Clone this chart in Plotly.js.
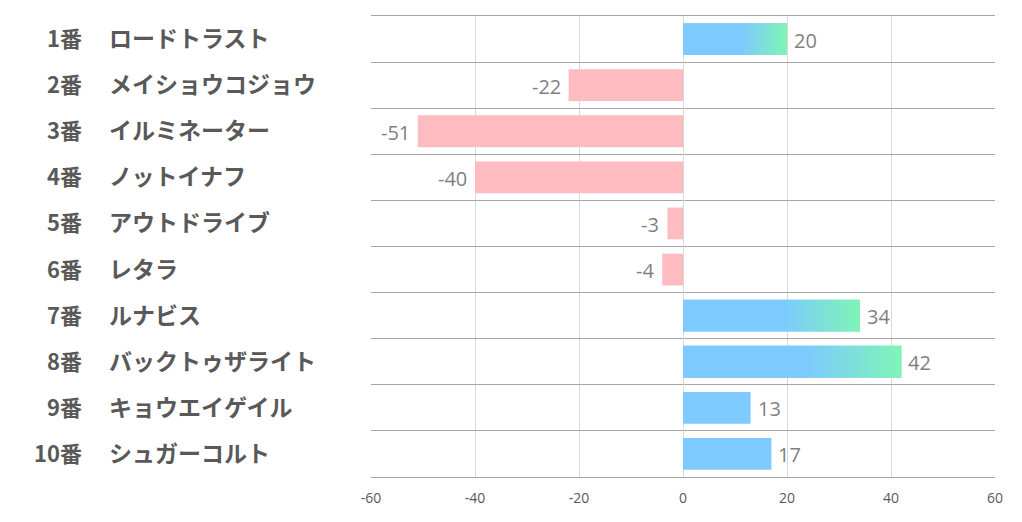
<!DOCTYPE html>
<html>
<head>
<meta charset="utf-8">
<script src="https://cdn.plot.ly/plotly-3.0.1.min.js"></script>
<style>html,body{margin:0;padding:0;background:#fff;}#chart{width:1022px;height:522px;}</style>
</head>
<body>
<div id="chart"></div>
<script>
const numbers = ["1番","2番","3番","4番","5番","6番","7番","8番","9番","10番"];
const names = ["ロードトラスト","メイショウコジョウ","イルミネーター","ノットイナフ","アウトドライブ","レタラ","ルナビス","バックトゥザライト","キョウエイゲイル","シュガーコルト"];
const values = [20,-22,-51,-40,-3,-4,34,42,13,17];
const gradientRows = [true,false,false,false,false,false,true,true,false,false];
const xTicks = [-60,-40,-20,0,20,40,60];

const BLUE = "#7dcaff", GREEN = "#7ef5b6", PINK = "#ffbcc0";
const barWidth = 0.69;
const idx = values.map((v,i)=>i);

const traces = [{
  type: "bar",
  orientation: "h",
  x: values,
  y: idx,
  width: barWidth,
  marker: {color: values.map(v => v >= 0 ? BLUE : PINK), line: {width: 0}},
  hoverinfo: "none"
}];

values.forEach((v,i) => {
  if (!gradientRows[i]) return;
  const y0 = i - barWidth/2, y1 = i + barWidth/2;
  traces.push({
    type: "scatter",
    mode: "lines",
    x: [0, v, v, 0, 0],
    y: [y0, y0, y1, y1, y0],
    fill: "toself",
    line: {width: 0, color: "rgba(0,0,0,0)"},
    fillgradient: {type: "horizontal", colorscale: [[0, BLUE], [0.56, BLUE], [1, GREEN]]},
    hoverinfo: "none",
    showlegend: false
  });
});

const annotations = [];
idx.forEach(i => {
  annotations.push({
    xref: "paper", yref: "y", x: -0.4599, y: i, xanchor: "right", yanchor: "middle", yshift: 2,
    text: "<b>" + numbers[i] + "</b>", showarrow: false,
    font: {family: "Noto Sans CJK JP, sans-serif", size: 22, color: "#595959"}
  });
  annotations.push({
    xref: "paper", yref: "y", x: -0.4231, y: i, xanchor: "left", yanchor: "middle", yshift: 2,
    text: "<b>" + names[i] + "</b>", showarrow: false,
    font: {family: "Noto Sans CJK JP, sans-serif", size: 23, color: "#595959"}
  });
  const v = values[i];
  annotations.push({
    xref: "x", yref: "y", x: v, y: i,
    xanchor: v >= 0 ? "left" : "right", yanchor: "middle",
    xshift: v >= 0 ? 5 : -6, yshift: -1,
    text: String(v), showarrow: false,
    font: {family: "Open Sans, Noto Sans, sans-serif", size: 20, color: "#7f7f7f"}
  });
});

const layout = {
  width: 1022, height: 522,
  margin: {l: 371, r: 27, t: 16, b: 45},
  paper_bgcolor: "#ffffff", plot_bgcolor: "#ffffff",
  showlegend: false,
  xaxis: {
    range: [-60, 60], tickvals: xTicks, ticktext: xTicks.map(String),
    showgrid: true, gridcolor: "#d9d9d9", gridwidth: 1,
    zeroline: true, zerolinecolor: "#d9d9d9", zerolinewidth: 1,
    showline: true, mirror: true, linecolor: "#a6a6a6", linewidth: 1,
    ticks: "", ticklabelstandoff: 8,
    tickfont: {family: "Open Sans, Noto Sans, sans-serif", size: 14, color: "#595959"},
    fixedrange: true
  },
  yaxis: {
    range: [9.5, -0.5], tick0: 0.5, dtick: 1, tickmode: "linear",
    showticklabels: false, ticks: "",
    showgrid: true, gridcolor: "#a6a6a6", gridwidth: 1,
    zeroline: false, showline: false, fixedrange: true
  },
  annotations: annotations
};

Plotly.newPlot("chart", traces, layout, {displayModeBar: false, staticPlot: true});
</script>
</body>
</html>
